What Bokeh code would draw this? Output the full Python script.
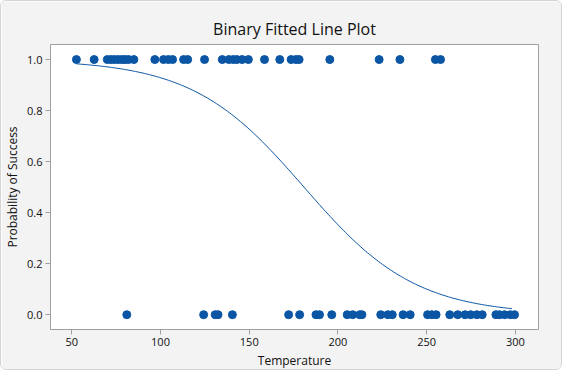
import numpy as np
from bokeh.plotting import figure
from bokeh.models import Range1d, FixedTicker
from bokeh.embed import file_html
from bokeh.resources import INLINE

# Observed events (Temperature) with outcome 1 (success) and 0 (failure)
temp_success = [52.6, 62.6, 70, 72, 74, 76, 78, 80, 82, 85, 96.8, 101.7, 104.4, 106.8,
                113.0, 115.3, 124.8, 134.8, 138.5, 141.0, 143.0, 146.0, 149.5, 158.6,
                167.2, 173.6, 176.3, 178.1, 195.4, 223.2, 234.9, 254.9, 257.8]
temp_failure = [81.0, 124.3, 130.8, 132.4, 140.5, 172.2, 178.4, 187.6, 189.6, 196.5,
                205.2, 208.3, 212.3, 213.5, 224.1, 228.1, 230.6, 236.7, 240.7, 250.5,
                252.9, 255.3, 263.0, 267.5, 271.6, 274.8, 278.3, 281.3, 289.0, 291.0,
                293.9, 297.1, 299.5]

# Fitted logistic model: P = exp(Y')/(1+exp(Y')), Y' = intercept + slope*Temperature
intercept = 5.742
slope = -0.03175

x_ticks = [50, 100, 150, 200, 250, 300]
y_ticks = [0.0, 0.2, 0.4, 0.6, 0.8, 1.0]

all_x = temp_success + temp_failure
xs = np.linspace(min(all_x), max(all_x) - 1.5, 200)
ys = 1.0 / (1.0 + np.exp(-(intercept + slope * xs)))

BG = "#f3f3f3"
BLUE = "#0b56a4"
FONT = "Open Sans"

p = figure(width=562, height=370, output_backend="svg", toolbar_location=None,
           x_range=Range1d(38, 313), y_range=Range1d(-0.058, 1.059),
           min_border_left=47, min_border_right=25, min_border_top=43, min_border_bottom=38)

p.title.text = "Binary Fitted Line Plot"
p.title.align = "center"
p.title.text_font = FONT
p.title.text_font_size = "16px"
p.title.text_font_style = "normal"
p.title.text_color = "#111111"
p.title.standoff = 9

p.background_fill_color = "white"
p.border_fill_color = BG
p.outline_line_color = "#a0a0a0"
p.outline_line_width = 1
p.xgrid.visible = False
p.ygrid.visible = False

p.line(xs, ys, line_color=BLUE, line_width=1)
p.scatter(temp_success, [1.0] * len(temp_success), size=8, fill_color=BLUE, line_color=BLUE)
p.scatter(temp_failure, [0.0] * len(temp_failure), size=8, fill_color=BLUE, line_color=BLUE)

p.xaxis.ticker = FixedTicker(ticks=x_ticks)
p.yaxis.ticker = FixedTicker(ticks=y_ticks)
p.yaxis.major_label_overrides = {t: f"{t:.1f}" for t in y_ticks}
p.xaxis.axis_label = "Temperature"
p.yaxis.axis_label = "Probability of Success"

for ax in (p.xaxis[0], p.yaxis[0]):
    ax.axis_line_color = None
    ax.major_tick_line_color = "#a0a0a0"
    ax.major_tick_in = 0
    ax.major_tick_out = 5
    ax.minor_tick_line_color = None
    ax.major_label_text_font = FONT
    ax.major_label_text_font_size = "11px"
    ax.major_label_text_color = "#111111"
    ax.axis_label_text_font = FONT
    ax.axis_label_text_font_size = "12px"
    ax.axis_label_text_font_style = "normal"
    ax.axis_label_text_color = "#111111"
    ax.major_label_standoff = 3
    ax.axis_label_standoff = 3

p.styles = {"border": "1px solid #d4d4d4", "border-radius": "6px", "overflow": "hidden"}

open("out.html", "w").write(file_html(p, INLINE))
